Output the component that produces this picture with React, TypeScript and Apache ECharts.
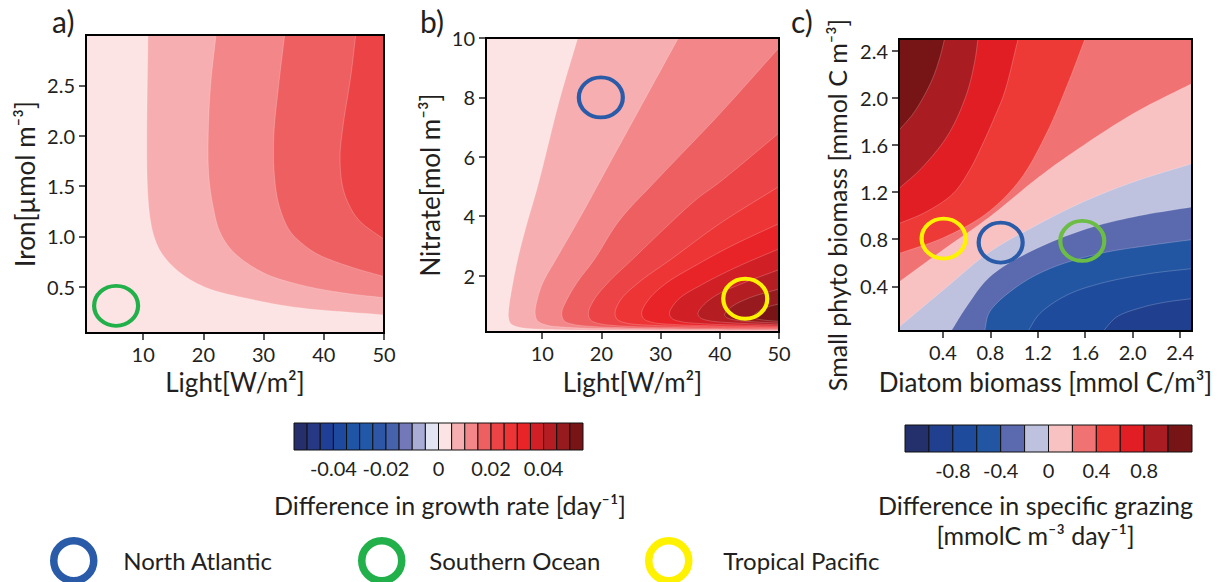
import React, { useEffect, useRef } from "react";
import * as echarts from "echarts";

const FONT = "Lato, 'Open Sans', sans-serif";
const INK = "#231F20";

// ---------- axis ranges and ticks ----------
const lightRange = [0.5, 50];
const ironRange = [0.04, 3.0];
const nitrateRange = [0.1, 10];
const diatomRange = [0.03, 2.5];
const smallPhytoRange = [0.02, 2.5];

const lightTicks = [10, 20, 30, 40, 50];
const ironTicks = [0.5, 1.0, 1.5, 2.0, 2.5];
const nitrateTicks = [2, 4, 6, 8, 10];
const biomassTicks = [0.4, 0.8, 1.2, 1.6, 2.0, 2.4];

// ---------- colour bars ----------
const growthBounds = [
  -0.055, -0.05, -0.045, -0.04, -0.035, -0.03, -0.025, -0.02, -0.015, -0.01, -0.005, 0,
  0.005, 0.01, 0.015, 0.02, 0.025, 0.03, 0.035, 0.04, 0.045, 0.05, 0.055,
];
const growthColors = [
  "#262F6B", "#273985", "#1E3F95", "#1D4A9E", "#1F55A5", "#2159A8", "#2D57A6", "#4762AC",
  "#7378B9", "#A9ACD4", "#E2E4F1", "#FCE4E4", "#F7AEB0", "#F28688", "#EE5F61", "#EC4446",
  "#EE3536", "#E82428", "#D11F26", "#B41D22", "#961A1E", "#791416",
];
const growthTicks = [-0.04, -0.02, 0, 0.02, 0.04];

const grazingBounds = [-1.2, -1.0, -0.8, -0.6, -0.4, -0.2, 0, 0.2, 0.4, 0.6, 0.8, 1.0, 1.2];
const grazingColors = [
  "#23306B", "#20408F", "#1F4B9D", "#2255A2", "#5B69AE", "#BFC2DF",
  "#F8C1C2", "#F07273", "#EE3A37", "#E21E25", "#A91D22", "#771415",
];
const grazingTicks = [-0.8, -0.4, 0, 0.4, 0.8];

// ---------- panel a: growth difference, light x iron ----------
const ironBaseLevel = 0;
const ironLevels = [0.005, 0.01, 0.015, 0.02];
const ironContours = [
  [[10.8, 3.0], [10.6, 2.0], [10.7, 1.5], [11.1, 1.2], [11.8, 1.0], [13.1, 0.83], [16.1, 0.64], [20.5, 0.49], [28.3, 0.37], [36, 0.29], [50, 0.22]],
  [[22.1, 3.0], [21.2, 2.5], [20.8, 2.0], [20.9, 1.6], [21.6, 1.3], [22.7, 1.05], [24.9, 0.85], [29.9, 0.64], [36, 0.52], [43, 0.44], [50, 0.39]],
  [[33.5, 3.0], [32.5, 2.5], [31.7, 2.0], [31.8, 1.6], [32.6, 1.3], [34.4, 1.05], [37, 0.9], [39.4, 0.81], [44.3, 0.7], [50, 0.6]],
  [[45.3, 3.0], [44.5, 2.6], [43.2, 2.1], [42.7, 1.8], [43.1, 1.5], [44.3, 1.3], [46, 1.15], [50, 0.97]],
];

// ---------- panel b: growth difference, light x nitrate ----------
const nitrateBaseLevel = 0;
const nitrateLevels = [0.005, 0.01, 0.015, 0.02, 0.025, 0.03, 0.035, 0.04, 0.045, 0.05];
const nitrateContours = [
  [[16, 10], [12.9, 7.9], [9.3, 5.06], [7.2, 3.6], [5.8, 2.5], [4.9, 1.6], [4.4, 0.97], [4.3, 0.6], [4.7, 0.38], [6.1, 0.26], [9, 0.2], [20, 0.16], [50, 0.13]],
  [[33, 10], [27.5, 8], [22, 6], [16.5, 4], [12.3, 2.54], [10.2, 1.8], [9.3, 1.3], [8.8, 0.75], [9.2, 0.48], [10.6, 0.34], [14, 0.26], [25, 0.2], [50, 0.16]],
  [[50, 9.67], [40, 7.45], [29, 5.15], [23, 3.85], [18.8, 2.54], [16, 1.8], [14.2, 1.2], [13.3, 0.74], [13.7, 0.48], [15.2, 0.36], [19, 0.28], [30, 0.22], [50, 0.18]],
  [[50, 6.8], [40, 5.15], [36, 4.56], [29.9, 3.44], [25.2, 2.54], [21.3, 1.8], [18.8, 1.2], [17.8, 0.74], [18.2, 0.5], [19.7, 0.38], [23.5, 0.3], [33, 0.25], [50, 0.21]],
  [[50, 5.0], [40, 3.75], [31.7, 2.54], [26.5, 1.8], [23.3, 1.2], [22.3, 0.74], [22.7, 0.52], [24.2, 0.4], [28, 0.33], [37, 0.28], [50, 0.24]],
  [[50, 3.75], [42, 3.0], [36, 2.35], [31, 1.75], [28, 1.2], [26.8, 0.74], [27.2, 0.54], [28.7, 0.42], [32.5, 0.35], [41, 0.3], [50, 0.27]],
  [[50, 2.9], [43, 2.3], [37, 1.7], [33, 1.2], [31.5, 0.74], [31.9, 0.56], [33.4, 0.45], [37, 0.38], [44, 0.33], [50, 0.3]],
  [[50, 2.2], [44, 1.75], [39.5, 1.35], [37.2, 1.0], [36.3, 0.72], [36.7, 0.58], [38.2, 0.48], [42, 0.41], [50, 0.34]],
  [[50, 1.55], [45, 1.25], [42, 0.95], [40.8, 0.68], [41.2, 0.58], [42.7, 0.5], [46, 0.44], [50, 0.4]],
  [[50, 1.05], [47.5, 0.9], [46, 0.72], [45.6, 0.63], [46, 0.56], [47.5, 0.5], [50, 0.46]],
];

// ---------- panel c: grazing difference, diatom x small phyto ----------
const grazingBaseLevel = -1.0;
const grazingLevels = [-0.8, -0.6, -0.4, -0.2, 0, 0.2, 0.4, 0.6, 0.8, 1.0];
const grazingContours = [
  [[1.752, 0.02], [1.865, 0.139], [2.091, 0.224], [2.288, 0.267], [2.5, 0.295]],
  [[1.118, 0.02], [1.217, 0.168], [1.443, 0.324], [1.724, 0.423], [2.147, 0.508], [2.5, 0.55]],
  [[0.752, 0.02], [0.794, 0.182], [1.02, 0.394], [1.302, 0.55], [1.724, 0.678], [2.147, 0.748], [2.5, 0.796]],
  [[0.47, 0.02], [0.597, 0.224], [0.794, 0.479], [1.104, 0.678], [1.575, 0.876], [2.006, 0.989], [2.5, 1.074]],
  [[0.03, 0.054], [0.4, 0.366], [0.794, 0.692], [1.161, 0.904], [1.583, 1.117], [2.006, 1.286], [2.5, 1.442]],
  [[0.03, 0.437], [0.406, 0.712], [0.794, 0.989], [1.175, 1.301], [1.443, 1.499], [2.006, 1.867], [2.5, 2.122]],
  [[0.03, 0.678], [0.406, 0.813], [0.766, 1.017], [1.048, 1.301], [1.273, 1.697], [1.443, 2.094], [1.598, 2.5]],
  [[0.03, 0.932], [0.259, 1.032], [0.485, 1.187], [0.625, 1.386], [0.724, 1.584], [0.837, 1.839], [0.921, 2.051], [1.034, 2.5]],
  [[0.03, 1.23], [0.217, 1.4], [0.442, 1.683], [0.597, 2.023], [0.668, 2.306], [0.696, 2.5]],
  [[0.03, 1.725], [0.16, 1.881], [0.301, 2.136], [0.372, 2.334], [0.414, 2.5]],
];

// ---------- region markers ----------
const southernOceanIron = [[5.5, 0.31]];
const northAtlanticNitrate = [[19.9, 8.0]];
const tropicalPacificNitrate = [[44.3, 1.22]];
const tropicalPacificGrazing = [[0.406, 0.805]];
const northAtlanticGrazing = [[0.887, 0.771]];
const southernOceanGrazing = [[1.575, 0.785]];

const BLUE = "#2A5BA8";
const GREEN = "#22B04B";
const GREEN_C = "#6CBD45";
const YELLOW = "#FFF200";

const RING =
  "path://M1,0C1,0.5523,0.5523,1,0,1C-0.5523,1,-1,0.5523,-1,0C-1,-0.5523,-0.5523,-1,0,-1C0.5523,-1,1,-0.5523,1,0Z";

function colorFor(level: number, bounds: number[], colors: string[]) {
  const v = level + 1e-9;
  for (let i = 0; i < colors.length; i++) {
    if (v >= bounds[i] && v < bounds[i + 1]) return colors[i];
  }
  return colors[colors.length - 1];
}

// corners (in data space) walked counter-clockwise from the contour end back to its start
function closingCorners(contour: number[][], xr: number[], yr: number[]) {
  const e = 1e-6;
  const tOf = (p: number[]) => {
    const [x, y] = p;
    if (Math.abs(y - yr[1]) < e) return (x - xr[0]) / (xr[1] - xr[0]);
    if (Math.abs(x - xr[1]) < e) return 1 + (yr[1] - y) / (yr[1] - yr[0]);
    if (Math.abs(y - yr[0]) < e) return 2 + (xr[1] - x) / (xr[1] - xr[0]);
    return 3 + (y - yr[0]) / (yr[1] - yr[0]);
  };
  const corners = [
    [xr[0], yr[1]],
    [xr[1], yr[1]],
    [xr[1], yr[0]],
    [xr[0], yr[0]],
  ];
  const tEnd = tOf(contour[contour.length - 1]);
  let tStart = tOf(contour[0]);
  if (tStart >= tEnd) tStart -= 4;
  const pts: number[][] = [];
  for (let c = Math.ceil(tEnd) - 1; c > tStart; c--) {
    pts.push(corners[((c % 4) + 4) % 4]);
  }
  return pts;
}

// centripetal Catmull-Rom drawing of a pixel polyline (rendering only)
function smoothPixels(p: number[][], steps = 10) {
  if (p.length < 3) return p;
  const d = (a: number[], b: number[]) => Math.max(Math.sqrt(Math.hypot(a[0] - b[0], a[1] - b[1])), 1e-4);
  const out: number[][] = [p[0]];
  for (let i = 0; i < p.length - 1; i++) {
    const P1 = p[i];
    const P2 = p[i + 1];
    const P0 = i > 0 ? p[i - 1] : [2 * P1[0] - P2[0], 2 * P1[1] - P2[1]];
    const P3 = i + 2 < p.length ? p[i + 2] : [2 * P2[0] - P1[0], 2 * P2[1] - P1[1]];
    const t0 = 0;
    const t1 = t0 + d(P0, P1);
    const t2 = t1 + d(P1, P2);
    const t3 = t2 + d(P2, P3);
    for (let s = 1; s <= steps; s++) {
      const t = t1 + ((t2 - t1) * s) / steps;
      const pt = [0, 1].map((k) => {
        const A1 = ((t1 - t) / (t1 - t0)) * P0[k] + ((t - t0) / (t1 - t0)) * P1[k];
        const A2 = ((t2 - t) / (t2 - t1)) * P1[k] + ((t - t1) / (t2 - t1)) * P2[k];
        const A3 = ((t3 - t) / (t3 - t2)) * P2[k] + ((t - t2) / (t3 - t2)) * P3[k];
        const B1 = ((t2 - t) / (t2 - t0)) * A1 + ((t - t0) / (t2 - t0)) * A2;
        const B2 = ((t3 - t) / (t3 - t1)) * A2 + ((t - t1) / (t3 - t1)) * A3;
        return ((t2 - t) / (t2 - t1)) * B1 + ((t - t1) / (t2 - t1)) * B2;
      });
      out.push(pt);
    }
  }
  return out;
}

function contourSeries(
  idx: number,
  xr: number[],
  yr: number[],
  baseLevel: number,
  levels: number[],
  contours: number[][][],
  bounds: number[],
  colors: string[]
) {
  const all = [baseLevel, ...levels];
  return {
    type: "custom",
    xAxisIndex: idx,
    yAxisIndex: idx,
    silent: true,
    z: 2,
    data: all.map(() => [xr[0], yr[0]]),
    renderItem: (params: any, api: any) => {
      const i = params.dataIndex;
      const fill = colorFor(all[i], bounds, colors);
      const a = api.coord([xr[0], yr[0]]);
      const b = api.coord([xr[1], yr[1]]);
      const minX = Math.min(a[0], b[0]);
      const maxX = Math.max(a[0], b[0]);
      const minY = Math.min(a[1], b[1]);
      const maxY = Math.max(a[1], b[1]);
      const clamp = (p: number[]) => [
        Math.min(maxX, Math.max(minX, p[0])),
        Math.min(maxY, Math.max(minY, p[1])),
      ];
      if (i === 0) {
        return {
          type: "rect",
          shape: { x: minX, y: minY, width: maxX - minX, height: maxY - minY },
          style: { fill },
        };
      }
      const contour = contours[i - 1];
      const curve = smoothPixels(contour.map((p) => api.coord(p))).map(clamp);
      const closing = closingCorners(contour, xr, yr).map((p) => api.coord(p));
      return {
        type: "group",
        children: [
          { type: "polygon", shape: { points: curve.concat(closing) }, style: { fill } },
          {
            type: "polyline",
            shape: { points: curve },
            style: { fill: "none", stroke: "rgba(255,255,255,0.35)", lineWidth: 0.6 },
          },
        ],
      };
    },
  };
}

function colorbarSeries(idx: number, bounds: number[], colors: string[]) {
  return {
    type: "custom",
    xAxisIndex: idx,
    yAxisIndex: idx,
    silent: true,
    z: 2,
    data: colors.map((_, i) => [bounds[i], bounds[i + 1]]),
    renderItem: (params: any, api: any) => {
      const lo = api.value(0);
      const hi = api.value(1);
      const p0 = api.coord([lo, 1]);
      const p1 = api.coord([hi, 0]);
      return {
        type: "rect",
        shape: { x: p0[0], y: p0[1], width: p1[0] - p0[0], height: p1[1] - p0[1] },
        style: { fill: colors[params.dataIndex], stroke: "#111", lineWidth: 1 },
      };
    },
  };
}

function ringSeries(name: string, idx: number, data: number[][], color: string) {
  return {
    type: "scatter",
    name,
    xAxisIndex: idx,
    yAxisIndex: idx,
    data,
    symbol: RING,
    symbolSize: [44, 40],
    symbolKeepAspect: false,
    silent: true,
    z: 5,
    itemStyle: { color: "transparent", borderColor: color, borderWidth: 4, opacity: 1 },
  };
}

const tickStyle = { lineStyle: { color: INK, width: 1.5 }, length: 7 };
const labelStyle = { fontSize: 20, color: INK, fontFamily: FONT, margin: 11 };
const nameStyle = { fontSize: 26, color: INK, fontFamily: FONT };

function valueAxis(range: number[], ticks: number[], fmt: (v: number) => string, extra: any) {
  return {
    type: "value",
    min: range[0],
    max: range[1],
    axisLine: { show: false },
    splitLine: { show: false },
    axisTick: { show: true, ...tickStyle, customValues: ticks },
    axisLabel: { ...labelStyle, customValues: ticks, formatter: fmt },
    nameLocation: "middle",
    nameMoveOverlap: false,
    ...extra,
  };
}

export default function App() {
  const ref = useRef<HTMLDivElement>(null);

  useEffect(() => {
    if (!ref.current) return;
    const chart = echarts.init(ref.current, undefined, { renderer: "svg" });

    const f1 = (v: number) => v.toFixed(1);
    const f0 = (v: number) => String(Math.round(v));

    const gridBase = {
      show: true,
      borderColor: "#000",
      borderWidth: 2,
      backgroundColor: "transparent",
      containLabel: false,
      outerBoundsMode: "none",
      z: 6,
    };
    const barGrid = { show: false, containLabel: false, outerBoundsMode: "none" };
    const letter = { fontSize: 30, fontWeight: "normal", color: INK, fontFamily: FONT, lineHeight: 34 };

    const option: any = {
      animation: false,
      backgroundColor: "#ffffff",
      textStyle: { fontFamily: FONT },
      title: [
        { text: "a)", left: 52, top: 4, padding: 0, textStyle: letter },
        { text: "b)", left: 420, top: 4, padding: 0, textStyle: letter },
        { text: "c)", left: 791, top: 4, padding: 0, textStyle: letter },
      ],
      grid: [
        { ...gridBase, left: 86, top: 35, width: 298, height: 298 },
        { ...gridBase, left: 486, top: 38, width: 293, height: 294 },
        { ...gridBase, left: 899, top: 39, width: 293, height: 292 },
        { ...barGrid, left: 294, top: 423, width: 289, height: 27 },
        { ...barGrid, left: 905, top: 425, width: 287, height: 27 },
      ],
      xAxis: [
        valueAxis(lightRange, lightTicks, f0, {
          gridIndex: 0,
          name: "Light[W/m²]",
          nameGap: 36,
          nameTextStyle: { ...nameStyle },
        }),
        valueAxis(lightRange, lightTicks, f0, {
          gridIndex: 1,
          name: "Light[W/m²]",
          nameGap: 37,
          nameTextStyle: { ...nameStyle },
        }),
        valueAxis(diatomRange, biomassTicks, f1, {
          gridIndex: 2,
          name: "Diatom biomass [mmol C/m³]",
          nameGap: 38,
          nameTextStyle: { ...nameStyle },
        }),
        {
          type: "value",
          gridIndex: 3,
          min: growthBounds[0],
          max: growthBounds[growthBounds.length - 1],
          axisLine: { show: false },
          axisTick: { show: false },
          splitLine: { show: false },
          axisLabel: {
            ...labelStyle,
            margin: 8,
            customValues: growthTicks,
            formatter: (v: number) => (Math.abs(v) < 1e-9 ? "0" : v.toFixed(2)),
          },
          name: "Difference in growth rate [day⁻¹]",
          nameLocation: "middle",
          nameMoveOverlap: false,
          nameGap: 42,
          nameTextStyle: { ...nameStyle, fontSize: 25, padding: [0, 0, 0, 23] },
        },
        {
          type: "value",
          gridIndex: 4,
          min: grazingBounds[0],
          max: grazingBounds[grazingBounds.length - 1],
          axisLine: { show: false },
          axisTick: { show: false },
          splitLine: { show: false },
          axisLabel: {
            ...labelStyle,
            margin: 8,
            customValues: grazingTicks,
            formatter: (v: number) => (Math.abs(v) < 1e-9 ? "0" : v.toFixed(1)),
          },
          name: "Difference in specific grazing\n[mmolC m⁻³ day⁻¹]",
          nameLocation: "middle",
          nameMoveOverlap: false,
          nameGap: 38,
          nameTextStyle: { ...nameStyle, fontSize: 25, lineHeight: 30, padding: [0, 26, 0, 0] },
        },
      ],
      yAxis: [
        valueAxis(ironRange, ironTicks, f1, {
          gridIndex: 0,
          name: "Iron[µmol m⁻³]",
          nameGap: 48,
          nameTextStyle: { ...nameStyle },
        }),
        valueAxis(nitrateRange, nitrateTicks, f0, {
          gridIndex: 1,
          name: "Nitrate[mol m⁻³]",
          nameGap: 43,
          nameTextStyle: { ...nameStyle },
        }),
        valueAxis(smallPhytoRange, biomassTicks, f1, {
          gridIndex: 2,
          name: "Small phyto biomass [mmol C m⁻³]",
          nameGap: 50,
          nameTextStyle: { ...nameStyle, fontSize: 25, padding: [0, 40, 0, 0] },
        }),
        { type: "value", gridIndex: 3, min: 0, max: 1, show: false },
        { type: "value", gridIndex: 4, min: 0, max: 1, show: false },
      ],
      legend: [
        {
          left: 50, top: 537, padding: 0, itemWidth: 45, itemHeight: 40, selectedMode: false,
          data: [{ name: "North Atlantic", icon: RING }],
          itemStyle: { borderWidth: 7.5, color: "transparent" },
          textStyle: { fontSize: 24, color: INK, fontFamily: FONT, padding: [0, 0, 0, 22] },
        },
        {
          left: 358, top: 537, padding: 0, itemWidth: 45, itemHeight: 40, selectedMode: false,
          data: [{ name: "Southern Ocean", icon: RING }],
          itemStyle: { borderWidth: 7.5, color: "transparent" },
          textStyle: { fontSize: 24, color: INK, fontFamily: FONT, padding: [0, 0, 0, 20] },
        },
        {
          left: 645, top: 537, padding: 0, itemWidth: 45, itemHeight: 40, selectedMode: false,
          data: [{ name: "Tropical Pacific", icon: RING }],
          itemStyle: { borderWidth: 7.5, color: "transparent" },
          textStyle: { fontSize: 24, color: INK, fontFamily: FONT, padding: [0, 0, 0, 27] },
        },
      ],
      series: [
        contourSeries(0, lightRange, ironRange, ironBaseLevel, ironLevels, ironContours, growthBounds, growthColors),
        contourSeries(1, lightRange, nitrateRange, nitrateBaseLevel, nitrateLevels, nitrateContours, growthBounds, growthColors),
        contourSeries(2, diatomRange, smallPhytoRange, grazingBaseLevel, grazingLevels, grazingContours, grazingBounds, grazingColors),
        colorbarSeries(3, growthBounds, growthColors),
        colorbarSeries(4, grazingBounds, grazingColors),
        ringSeries("North Atlantic", 1, northAtlanticNitrate, BLUE),
        ringSeries("North Atlantic", 2, northAtlanticGrazing, BLUE),
        ringSeries("Southern Ocean", 0, southernOceanIron, GREEN),
        ringSeries("Southern Ocean", 2, southernOceanGrazing, GREEN_C),
        ringSeries("Tropical Pacific", 1, tropicalPacificNitrate, YELLOW),
        ringSeries("Tropical Pacific", 2, tropicalPacificGrazing, YELLOW),
      ],
    };

    chart.setOption(option);
    return () => chart.dispose();
  }, []);

  return (
    <div
      ref={ref}
      style={{ position: "absolute", left: 0, top: 0, width: 1220, height: 582, background: "#fff" }}
    />
  );
}
